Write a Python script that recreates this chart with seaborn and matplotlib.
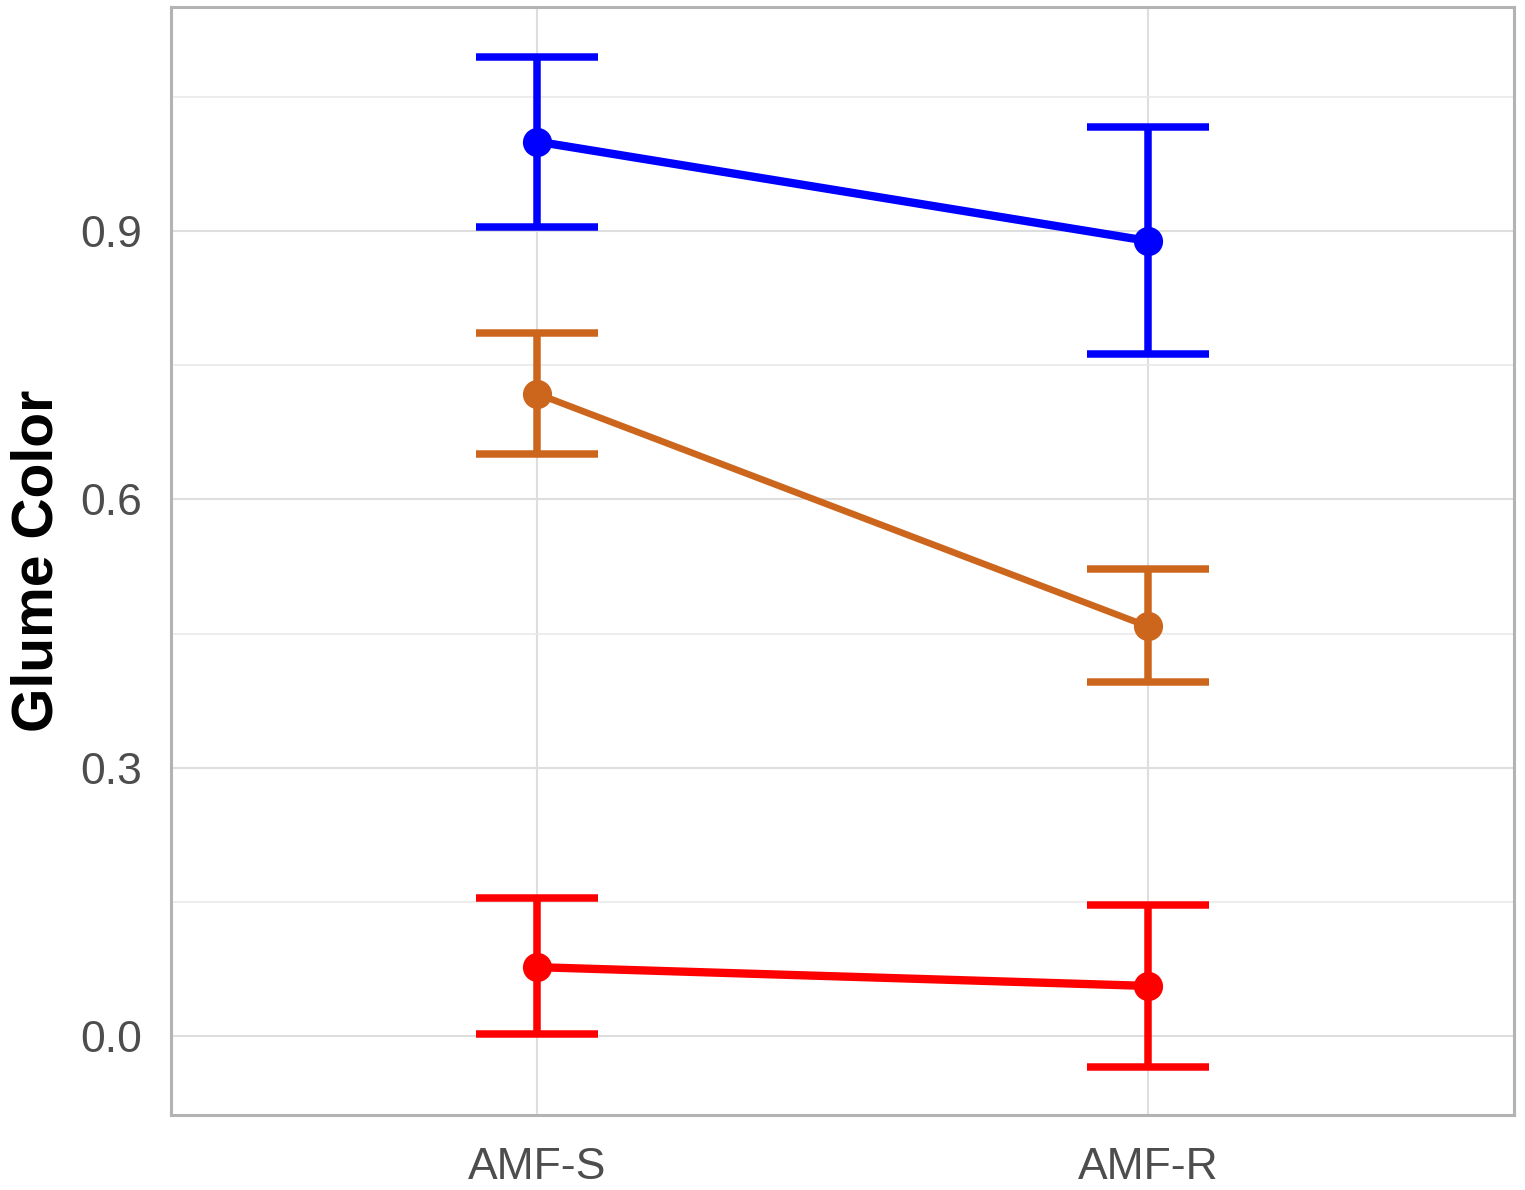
import matplotlib
matplotlib.use("Agg")
import matplotlib.pyplot as plt
from matplotlib.ticker import FixedLocator
import seaborn as sns
import pandas as pd
import numpy as np

# ---- data ----
treatments = ["AMF-S", "AMF-R"]
groups = ["blue", "orange", "red"]
colors = {"blue": "#0000FF", "orange": "#CD661D", "red": "#FF0000"}
mean_blue = [1.000, 0.889]
low_blue = [0.905, 0.763]
high_blue = [1.095, 1.016]
mean_orange = [0.718, 0.458]
low_orange = [0.651, 0.396]
high_orange = [0.786, 0.522]
mean_red = [0.077, 0.056]
low_red = [0.002, -0.035]
high_red = [0.154, 0.146]
y_ticks = [0.0, 0.3, 0.6, 0.9]
y_tick_labels = ["0.0", "0.3", "0.6", "0.9"]

means = {"blue": mean_blue, "orange": mean_orange, "red": mean_red}
lows = {"blue": low_blue, "orange": low_orange, "red": low_red}
highs = {"blue": high_blue, "orange": high_orange, "red": high_red}

rows = []
for g in groups:
    for i, t in enumerate(treatments):
        rows.append({"group": g, "treatment": t, "mean": means[g][i],
                     "low": lows[g][i], "high": highs[g][i]})
df = pd.DataFrame(rows)

sns.set_theme(style="white")
plt.rcParams["font.family"] = ["Liberation Sans", "DejaVu Sans"]

fig = plt.figure(figsize=(15.25, 11.9), dpi=100)
ax = fig.add_axes([171 / 1525, 1 - 1115 / 1190, (1514 - 171) / 1525, (1115 - 7) / 1190])

line_widths = {"blue": 6.0, "orange": 4.8, "red": 6.0}

n_before = len(ax.lines)
sns.pointplot(data=df, x="treatment", y="mean", hue="group", order=treatments,
              hue_order=groups, palette=colors, errorbar=None, markers="o",
              linestyles="-", legend=False, ax=ax)
point_lines = list(ax.lines[n_before:])
for line, g in zip(point_lines, groups):
    line.set_linewidth(line_widths[g])
    line.set_markersize(21)
    line.set_markeredgewidth(0)
    line.set_zorder(4)

# error bars
for g in groups:
    sub = df[df["group"] == g]
    x = np.arange(len(treatments))
    yerr = np.vstack([sub["mean"].values - sub["low"].values,
                      sub["high"].values - sub["mean"].values])
    ax.errorbar(x, sub["mean"].values, yerr=yerr, fmt="none",
                ecolor=colors[g], elinewidth=5.4, capsize=44, capthick=5.4,
                zorder=3)

ax.set_xlim(-0.6, 1.6)
ax.set_ylim(-0.0883, 1.1505)
ax.yaxis.set_major_locator(FixedLocator(y_ticks))
ax.set_yticklabels(y_tick_labels)
ax.yaxis.set_minor_locator(FixedLocator([0.15, 0.45, 0.75, 1.05]))

ax.grid(True, which="major", color="#DEDEDE", linewidth=1.5, zorder=0)
ax.grid(True, which="minor", axis="y", color="#E8E8E8", linewidth=1.1, zorder=0)
ax.set_axisbelow(True)

for sp in ax.spines.values():
    sp.set_color("#B3B3B3")
    sp.set_linewidth(2.2)

ax.tick_params(axis="both", which="major", length=10, width=2, color="#B3B3B3",
               labelsize=32, labelcolor="#4D4D4D")
ax.tick_params(axis="both", which="minor", length=0)
ax.tick_params(axis="x", pad=13)
ax.tick_params(axis="y", pad=11)

ax.set_xlabel("")
ax.set_ylabel("Glume Color", fontsize=41, fontweight="bold", color="black", labelpad=11)

fig.savefig("out.png", dpi=100)
